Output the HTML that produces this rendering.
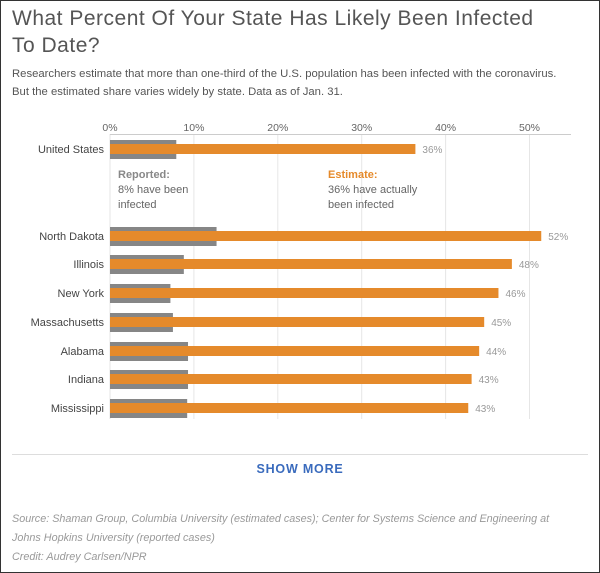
<!DOCTYPE html>
<html><head><meta charset="utf-8"><style>
body{margin:0;background:#fff;}
#wrap{position:relative;width:598px;height:571px;border:1px solid #333;font-family:"Liberation Sans",sans-serif;overflow:hidden;background:#fff;}
h1{position:absolute;left:11px;top:4px;margin:0;font-weight:normal;font-size:21px;line-height:27px;color:#555;letter-spacing:0.5px;white-space:nowrap;}
.sub{position:absolute;left:11px;top:64px;font-size:11.3px;line-height:18px;color:#555;width:590px;}
svg{position:absolute;left:0;top:0;}
.sep{position:absolute;left:11px;top:453px;width:576px;height:1px;background:#ddd;}
.more{position:absolute;left:0;width:598px;top:461px;text-align:center;font-size:12.5px;font-weight:bold;letter-spacing:0.8px;color:#3a6bbd;}
.src{position:absolute;left:11px;top:509px;font-size:10.8px;line-height:19px;font-style:italic;color:#999;width:575px;}
</style></head><body>
<div id="wrap">
<h1>What Percent Of Your State Has Likely Been Infected<br>To Date?</h1>
<div class="sub">Researchers estimate that more than one-third of the U.S. population has been infected with the coronavirus.<br>But the estimated share varies widely by state. Data as of Jan. 31.</div>
<svg id="chart" width="600" height="573"></svg>
<div class="sep"></div>
<div class="more">SHOW MORE</div>
<div class="src">Source: Shaman Group, Columbia University (estimated cases); Center for Systems Science and Engineering at<br>Johns Hopkins University (reported cases)<br>Credit: Audrey Carlsen/NPR</div>
</div>
<script>
const categories=["United States","North Dakota","Illinois","New York","Massachusetts","Alabama","Indiana","Mississippi"];
const estimated=[36.4,51.4,47.9,46.3,44.6,44.0,43.1,42.7];
const estLabels=["36%","52%","48%","46%","45%","44%","43%","43%"];
const reported=[7.9,12.7,8.8,7.2,7.5,9.3,9.3,9.2];
const ticks=[0,10,20,30,40,50];
const rowY=[148,235,263,292,321,350,378,407];
const NS="http://www.w3.org/2000/svg";
const svg=document.getElementById('chart');
const x=v=>109+v*8.39;
function mk(t,a){const e=document.createElementNS(NS,t);for(const k in a)e.setAttribute(k,a[k]);svg.appendChild(e);return e;}
ticks.forEach(t=>{
  const g=mk('line',{x1:x(t),x2:x(t),y1:133,y2:418,stroke:'#e6e6e6','stroke-width':1});
  
  
  const l=mk('text',{x:x(t),y:130,'text-anchor':'middle','font-size':10.5,fill:'#666','font-family':'Liberation Sans, sans-serif'});
  l.textContent=t+'%';
  
  
});
const ax=mk('line',{x1:109,x2:570,y1:133.5,y2:133.5,stroke:'#ccc','stroke-width':1});


categories.forEach((c,i)=>{
  const y=rowY[i];
  const lb=mk('text',{x:103,y:y+4,'text-anchor':'end','font-size':11,fill:'#444','font-family':'Liberation Sans, sans-serif'});
  lb.textContent=c;
  
  
  const r=mk('rect',{x:x(0),y:y-9,width:x(reported[i])-x(0),height:19,fill:'#868686'});
  
  
  const e=mk('rect',{x:x(0),y:y-5,width:x(estimated[i])-x(0),height:10,fill:'#e58a2b'});
  
  
  const v=mk('text',{x:x(estimated[i])+7,y:y+4,'font-size':10,fill:'#999','font-family':'Liberation Sans, sans-serif'});
  v.textContent=estLabels[i];
  
  
});
function anno(lines,xx,y0,name){
  lines.forEach((s,k)=>{
    const t=mk('text',{x:xx,y:y0+k*15,'font-size':11,fill:k===0?s.col:'#666','font-weight':k===0?'bold':'normal','font-family':'Liberation Sans, sans-serif'});
    t.textContent=s.t;
    
    
  });
}
anno([{t:'Reported:',col:'#888'},{t:'8% have been'},{t:'infected'}],117,177,'reported-annotation');
anno([{t:'Estimate:',col:'#e58a2b'},{t:'36% have actually'},{t:'been infected'}],327,177,'estimate-annotation');
</script>
</body></html>
